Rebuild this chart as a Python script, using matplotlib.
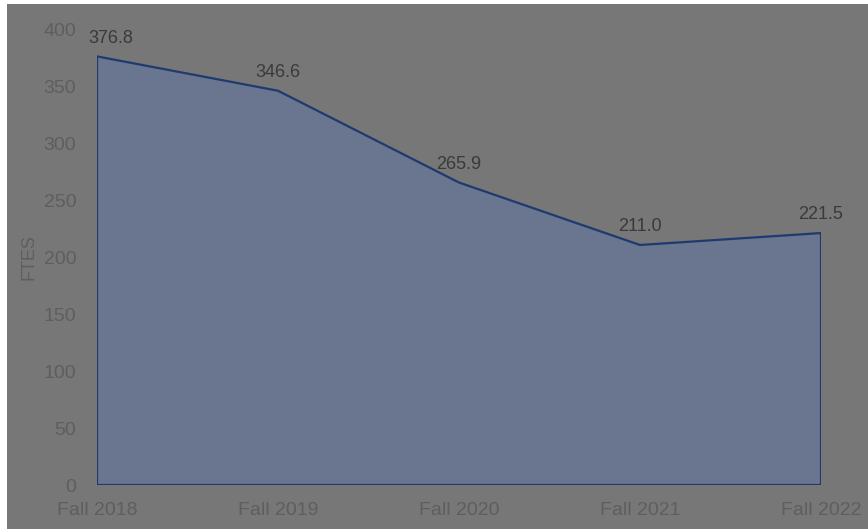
import matplotlib
matplotlib.use("Agg")
import matplotlib.pyplot as plt
from matplotlib.patches import Rectangle

categories = ["Fall 2018", "Fall 2019", "Fall 2020", "Fall 2021", "Fall 2022"]
ftes = [376.8, 346.6, 265.9, 211.0, 221.5]
yticks = [0, 50, 100, 150, 200, 250, 300, 350, 400]

plt.rcParams['font.family'] = ['Liberation Sans', 'DejaVu Sans']

W, H = 868, 531
fig = plt.figure(figsize=(W/100, H/100), dpi=100, facecolor='white')
bg = '#777777'
fig.patches.append(Rectangle((7/W, 2/H), 1 - 7/W, 1 - 6/H, transform=fig.transFigure,
                             facecolor=bg, edgecolor='none', zorder=-10))

ax = fig.add_axes([97/W, 46/H, (821-97)/W, (485-30)/H])
ax.set_facecolor('none')
x = list(range(len(categories)))
ax.fill_between(x, ftes, 0, facecolor='#6a7590', edgecolor='none', zorder=2)
ax.plot([x[0]] + x + [x[-1], x[0]], [0] + ftes + [0, 0], color='#1f3a6e', lw=1.6, zorder=3,
        solid_joinstyle='miter')

ax.set_xlim(0, len(categories) - 1)
ax.set_ylim(0, 400)
ax.set_yticks(yticks)
ax.set_xticks(x)
ax.set_xticklabels(categories)
for s in ax.spines.values():
    s.set_visible(False)
ax.tick_params(axis='both', length=0, colors='#5e5e5e', labelsize=14)
ax.tick_params(axis='x', pad=12)
ax.tick_params(axis='y', pad=15)
ax.set_ylabel('FTES', color='#5e5e5e', fontsize=13, labelpad=4)

offsets = [10, 0, 0, 0, 0]
for i, v in enumerate(ftes):
    ax.annotate(f"{v:.1f}", (x[i], v), xytext=(offsets[i], 7), textcoords='offset points',
                ha='center', va='bottom', fontsize=13, color='#3a3a3a',
                annotation_clip=False)

fig.savefig('out.png', dpi=100, facecolor='white')
